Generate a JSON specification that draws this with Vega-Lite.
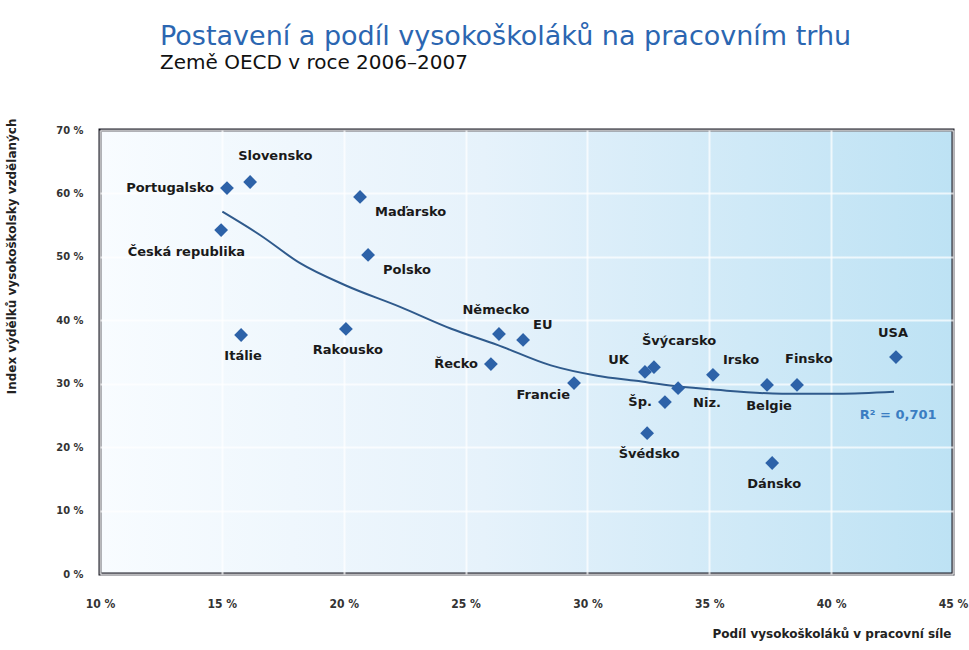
{
  "$schema": "https://vega.github.io/schema/vega-lite/v6.json",
  "autosize": "none",
  "width": 853,
  "height": 444,
  "padding": {"left": 100, "top": 130, "right": 16, "bottom": 76},
  "background": "white",
  "title": {
    "text": "Postavení a podíl vysokoškoláků na pracovním trhu",
    "subtitle": "Země OECD v roce 2006–2007",
    "anchor": "start",
    "frame": "group",
    "dx": 60,
    "offset": 44,
    "font": "DejaVu Sans",
    "fontSize": 27,
    "fontWeight": "normal",
    "color": "#2b66b1",
    "subtitleFont": "DejaVu Sans",
    "subtitleFontSize": 20,
    "subtitleColor": "#111111",
    "subtitlePadding": 2
  },
  "datasets": {
    "countries": [
      {"zeme": "Portugalsko", "podil": 15.21, "index": 60.85, "pos": "left"},
      {"zeme": "Slovensko", "podil": 16.16, "index": 61.8, "pos": "top"},
      {"zeme": "Maďarsko", "podil": 20.67, "index": 59.44, "pos": "belowright"},
      {"zeme": "Česká republika", "podil": 14.97, "index": 54.23, "pos": "belowleft"},
      {"zeme": "Polsko", "podil": 21.0, "index": 50.3, "pos": "belowright"},
      {"zeme": "Itálie", "podil": 15.79, "index": 37.68, "pos": "below"},
      {"zeme": "Rakousko", "podil": 20.09, "index": 38.63, "pos": "below"},
      {"zeme": "Německo", "podil": 26.37, "index": 37.84, "pos": "above"},
      {"zeme": "EU", "podil": 27.36, "index": 36.9, "pos": "aboveright"},
      {"zeme": "Řecko", "podil": 26.04, "index": 33.1, "pos": "left"},
      {"zeme": "Francie", "podil": 29.45, "index": 30.1, "pos": "lowleft"},
      {"zeme": "UK", "podil": 32.36, "index": 31.85, "pos": "aboveleft"},
      {"zeme": "Švýcarsko", "podil": 32.73, "index": 32.6, "pos": "top"},
      {"zeme": "Šp.", "podil": 33.18, "index": 27.1, "pos": "left"},
      {"zeme": "Niz.", "podil": 33.72, "index": 29.3, "pos": "belowright"},
      {"zeme": "Švédsko", "podil": 32.45, "index": 22.2, "pos": "below"},
      {"zeme": "Irsko", "podil": 35.15, "index": 31.4, "pos": "aboveright"},
      {"zeme": "Belgie", "podil": 37.37, "index": 29.8, "pos": "below"},
      {"zeme": "Finsko", "podil": 38.6, "index": 29.8, "pos": "top"},
      {"zeme": "Dánsko", "podil": 37.58, "index": 17.5, "pos": "below"},
      {"zeme": "USA", "podil": 42.66, "index": 34.2, "pos": "above"}
    ],
    "trend": [
      {"podil": 15.02, "index": 57.12},
      {"podil": 16.61, "index": 53.33},
      {"podil": 18.21, "index": 49.0},
      {"podil": 20.11, "index": 45.45},
      {"podil": 22.31, "index": 42.12},
      {"podil": 24.41, "index": 38.67},
      {"podil": 26.3, "index": 36.13},
      {"podil": 28.5, "index": 32.89},
      {"podil": 30.4, "index": 31.26},
      {"podil": 32.0, "index": 30.45},
      {"podil": 33.59, "index": 29.64},
      {"podil": 35.29, "index": 29.04},
      {"podil": 37.99, "index": 28.43},
      {"podil": 40.29, "index": 28.43},
      {"podil": 42.58, "index": 28.74}
    ],
    "r2": [
      {"podil": 42.75, "index": 25.07, "t": "R² = 0,701"}
    ]
  },
  "encoding": {
    "x": {
      "field": "podil", "type": "quantitative",
      "scale": {"domain": [10, 45], "nice": false, "zero": false},
      "axis": {
        "values": [10, 15, 20, 25, 30, 35, 40, 45],
        "labelExpr": "datum.value + ' %'",
        "title": "Podíl vysokoškoláků v pracovní síle",
        "titleAnchor": "end",
        "titleAlign": "right",
        "titleX": 851,
        "titleY": 54,
        "titleFont": "DejaVu Sans",
        "titleFontSize": 12,
        "titleFontWeight": "bold",
        "titleColor": "#222222",
        "labelFont": "DejaVu Sans Condensed",
        "labelFontSize": 12,
        "labelFontWeight": "bold",
        "labelColor": "#333333",
        "labelPadding": 24,
        "labelFlush": false,
        "domain": false,
        "ticks": false,
        "grid": true,
        "gridColor": "white",
        "gridOpacity": 0.7,
        "gridWidth": 2
      }
    },
    "y": {
      "field": "index", "type": "quantitative",
      "scale": {"domain": [0, 70], "nice": false},
      "axis": {
        "values": [0, 10, 20, 30, 40, 50, 60, 70],
        "labelExpr": "datum.value + ' %'",
        "title": "Index výdělků vysokoškolsky vzdělaných",
        "titleAngle": -90,
        "titleAlign": "right",
        "titleAnchor": "end",
        "titleX": -82,
        "titleY": -12,
        "titleFont": "DejaVu Sans",
        "titleFontSize": 12,
        "titleFontWeight": "bold",
        "titleColor": "#222222",
        "labelFont": "DejaVu Sans Condensed",
        "labelFontSize": 11,
        "labelFontWeight": "bold",
        "labelColor": "#333333",
        "labelPadding": 17,
        "labelFlush": false,
        "domain": false,
        "ticks": false,
        "grid": true,
        "gridColor": "white",
        "gridOpacity": 0.7,
        "gridWidth": 2
      }
    }
  },
  "layer": [
    {
      "data": {"name": "trend"},
      "mark": {"type": "line", "color": "#2f5a8c", "strokeWidth": 2, "interpolate": "monotone"}
    },
    {
      "data": {"name": "countries"},
      "mark": {"type": "point", "shape": "diamond", "filled": true, "size": 190, "color": "#2d62a8", "opacity": 1}
    },
    {
      "data": {"name": "countries"},
      "transform": [{"filter": "datum.pos == 'left'"}],
      "mark": {"type": "text", "align": "right", "baseline": "middle", "dx": -13, "dy": 0, "font": "DejaVu Sans", "fontSize": 13, "fontWeight": "bold", "color": "#1a1a1a"},
      "encoding": {"text": {"field": "zeme"}}
    },
    {
      "data": {"name": "countries"},
      "transform": [{"filter": "datum.pos == 'top'"}],
      "mark": {"type": "text", "align": "left", "baseline": "middle", "dx": -12, "dy": -26, "font": "DejaVu Sans", "fontSize": 13, "fontWeight": "bold", "color": "#1a1a1a"},
      "encoding": {"text": {"field": "zeme"}}
    },
    {
      "data": {"name": "countries"},
      "transform": [{"filter": "datum.pos == 'above'"}],
      "mark": {"type": "text", "align": "center", "baseline": "middle", "dx": -3, "dy": -24, "font": "DejaVu Sans", "fontSize": 13, "fontWeight": "bold", "color": "#1a1a1a"},
      "encoding": {"text": {"field": "zeme"}}
    },
    {
      "data": {"name": "countries"},
      "transform": [{"filter": "datum.pos == 'aboveright'"}],
      "mark": {"type": "text", "align": "left", "baseline": "middle", "dx": 10, "dy": -15, "font": "DejaVu Sans", "fontSize": 13, "fontWeight": "bold", "color": "#1a1a1a"},
      "encoding": {"text": {"field": "zeme"}}
    },
    {
      "data": {"name": "countries"},
      "transform": [{"filter": "datum.pos == 'aboveleft'"}],
      "mark": {"type": "text", "align": "right", "baseline": "middle", "dx": -16, "dy": -12, "font": "DejaVu Sans", "fontSize": 13, "fontWeight": "bold", "color": "#1a1a1a"},
      "encoding": {"text": {"field": "zeme"}}
    },
    {
      "data": {"name": "countries"},
      "transform": [{"filter": "datum.pos == 'below'"}],
      "mark": {"type": "text", "align": "center", "baseline": "middle", "dx": 2, "dy": 21, "font": "DejaVu Sans", "fontSize": 13, "fontWeight": "bold", "color": "#1a1a1a"},
      "encoding": {"text": {"field": "zeme"}}
    },
    {
      "data": {"name": "countries"},
      "transform": [{"filter": "datum.pos == 'belowright'"}],
      "mark": {"type": "text", "align": "left", "baseline": "middle", "dx": 15, "dy": 15, "font": "DejaVu Sans", "fontSize": 13, "fontWeight": "bold", "color": "#1a1a1a"},
      "encoding": {"text": {"field": "zeme"}}
    },
    {
      "data": {"name": "countries"},
      "transform": [{"filter": "datum.pos == 'belowleft'"}],
      "mark": {"type": "text", "align": "right", "baseline": "middle", "dx": 24, "dy": 22, "font": "DejaVu Sans", "fontSize": 13, "fontWeight": "bold", "color": "#1a1a1a"},
      "encoding": {"text": {"field": "zeme"}}
    },
    {
      "data": {"name": "countries"},
      "transform": [{"filter": "datum.pos == 'lowleft'"}],
      "mark": {"type": "text", "align": "right", "baseline": "middle", "dx": -4, "dy": 12, "font": "DejaVu Sans", "fontSize": 13, "fontWeight": "bold", "color": "#1a1a1a"},
      "encoding": {"text": {"field": "zeme"}}
    },
    {
      "data": {"name": "r2"},
      "mark": {"type": "text", "align": "center", "baseline": "middle", "font": "DejaVu Sans", "fontSize": 13, "fontWeight": "bold", "color": "#3a7dc2"},
      "encoding": {"text": {"field": "t"}}
    }
  ],
  "config": {
    "view": {
      "stroke": "#15151f",
      "strokeWidth": 3,
      "fill": {
        "gradient": "linear",
        "x1": 0, "y1": 0, "x2": 1, "y2": 0,
        "stops": [
          {"offset": 0, "color": "#f8fcff"},
          {"offset": 0.45, "color": "#e6f2fb"},
          {"offset": 1, "color": "#bde2f4"}
        ]
      }
    }
  }
}
